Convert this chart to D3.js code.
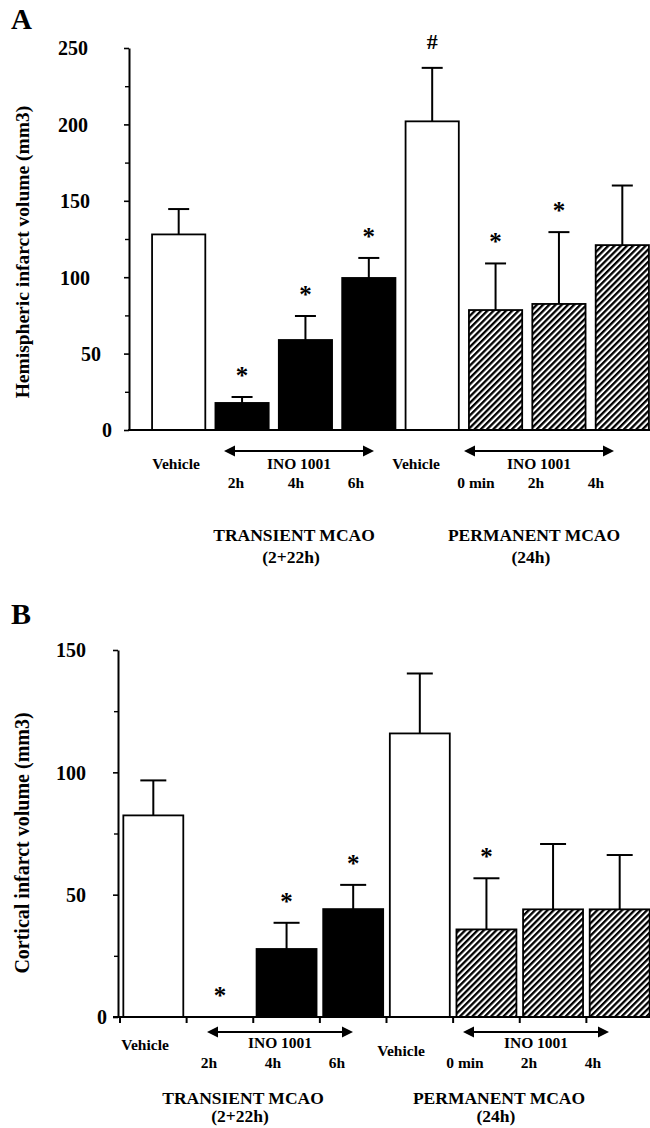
<!DOCTYPE html>
<html><head><meta charset="utf-8">
<script src="https://cdn.jsdelivr.net/npm/d3@7"></script>
<style>html,body{margin:0;padding:0;background:#fff}svg{display:block}</style>
</head><body>
<script>
// ---------- data ----------
const categories = ["Vehicle","2h","4h","6h","Vehicle","0 min","2h","4h"];
const treatments = ["vehicle","ino","ino","ino","vehicle","ino","ino","ino"];
const models = ["transient","transient","transient","transient","permanent","permanent","permanent","permanent"];
const hemisphericMean = [128, 17.7, 58.9, 99.5, 202, 78.5, 82.5, 121];
const hemisphericSem  = [16.6, 3.9, 15.7, 13.1, 35, 30.5, 47, 39];
const hemisphericMarks = ["", "*", "*", "*", "#", "*", "*", ""];
const corticalMean = [82.4, 0, 27.8, 44.1, 115.9, 35.8, 44, 44];
const corticalSem  = [14.3, 0, 10.7, 9.9, 24.5, 20.9, 26.7, 22.2];
const corticalMarks = ["", "*", "*", "*", "", "*", "", ""];
const hemisphericTicks = [0, 50, 100, 150, 200, 250];
const corticalTicks = [0, 50, 100, 150];
const drugName = "INO 1001";
const modelTitles = {transient: ["TRANSIENT MCAO", "(2+22h)"], permanent: ["PERMANENT MCAO", "(24h)"]};

// ---------- drawing ----------
const W = 650, H = 1128;
const FONT = "'Liberation Serif','Times New Roman',serif";
const svg = d3.select("body").append("svg").attr("width", W).attr("height", H)
  .attr("font-family", FONT).attr("font-weight", "bold");

const defs = svg.append("defs");
const pat = defs.append("pattern").attr("id", "hatch").attr("patternUnits", "userSpaceOnUse")
  .attr("width", 4.4).attr("height", 4.4).attr("patternTransform", "rotate(45)");
pat.append("rect").attr("width", 4.4).attr("height", 4.4).attr("fill", "#fff");
pat.append("rect").attr("width", 2.3).attr("height", 4.4).attr("fill", "#000");

function fillFor(i) {
  if (treatments[i] === "vehicle") return "#fff";
  return models[i] === "transient" ? "#000" : "url(#hatch)";
}

function drawPanel(p) {
  const g = svg.append("g");
  const y = d3.scaleLinear().domain([0, p.max]).range([p.bottom, p.top]);
  const x = d3.scaleBand().domain(d3.range(categories.length)).range(p.xRange)
    .paddingInner(p.padIn).paddingOuter(p.padOut);
  const cx = i => x(i) + x.bandwidth() / 2;
  const labelX = d3.scaleLinear().domain([cx(0), cx(categories.length - 1)]).range(p.labelSpan);

  // panel letter
  g.append("text").attr("x", 11).attr("y", p.letterY).attr("font-size", p.letterSize).text(p.letter);

  // y axis title
  g.append("text").attr("transform", `translate(${p.titleX},${p.titleY}) rotate(-90)`)
    .attr("text-anchor", "middle").attr("font-size", p.titleSize).text(p.yTitle);

  const rows = p.means.map((v, i) => ({v, s: p.sems[i], m: p.marks[i], i}));

  // bars
  g.selectAll("rect.bar").data(rows.filter(d => d.v > 0)).join("rect").attr("class", "bar")
    .attr("x", d => x(d.i)).attr("width", x.bandwidth())
    .attr("y", d => y(d.v)).attr("height", d => y(0) - y(d.v))
    .attr("fill", d => fillFor(d.i)).attr("stroke", "#000").attr("stroke-width", 1.8);

  // error bars (upper only)
  const eb = g.selectAll("g.eb").data(rows.filter(d => d.s > 0)).join("g").attr("class", "eb")
    .attr("stroke", "#000").attr("stroke-width", 2);
  eb.append("line").attr("x1", d => cx(d.i)).attr("x2", d => cx(d.i))
    .attr("y1", d => y(d.v)).attr("y2", d => y(d.v + d.s));
  eb.append("line").attr("x1", d => cx(d.i) - p.capW / 2).attr("x2", d => cx(d.i) + p.capW / 2)
    .attr("y1", d => y(d.v + d.s)).attr("y2", d => y(d.v + d.s));

  // significance marks
  g.selectAll("text.mark").data(rows.filter(d => d.m)).join("text").attr("class", "mark")
    .attr("x", d => cx(d.i)).attr("y", d => y(d.v + d.s) - (d.m === "#" ? p.markGap + 2 : p.markGap - 4))
    .attr("text-anchor", "middle").attr("font-size", d => d.m === "#" ? 22 : 25).text(d => d.m);

  // y axis
  const ax = g.append("g").attr("transform", `translate(${p.axisX},0)`)
    .call(d3.axisLeft(y).tickValues(p.ticks).tickSize(5).tickSizeOuter(0).tickFormat(d3.format("d")));
  ax.select(".domain").attr("stroke-width", 2);
  ax.selectAll(".tick line").attr("stroke-width", 1.6);
  ax.selectAll(".tick text").attr("font-family", FONT).attr("font-weight", "bold")
    .attr("font-size", p.tickSize).attr("fill", "#000")
    .attr("x", d => p.tickEnd(d) - p.axisX).attr("dy", "0.34em");
  const minor = g.append("g").attr("transform", `translate(${p.axisX},0)`)
    .call(d3.axisLeft(y).tickValues(d3.range(p.minor, p.max, p.minor * 2)).tickSize(4).tickFormat(""));
  minor.select(".domain").remove();
  minor.selectAll(".tick line").attr("stroke-width", 1.4);

  // baseline
  g.append("line").attr("x1", p.axisX - p.baseLeft).attr("x2", W).attr("y1", y(0)).attr("y2", y(0))
    .attr("stroke", "#000").attr("stroke-width", 2);

  // x ticks at band boundaries
  if (p.xTicks) {
    const bounds = d3.range(categories.length + 1).map(k =>
      k < categories.length ? x(k) - x.step() * x.paddingInner() / 2
                            : x(k - 1) + x.bandwidth() + x.step() * x.paddingInner() / 2);
    g.selectAll("line.xt").data(bounds).join("line").attr("class", "xt")
      .attr("x1", d => d).attr("x2", d => d).attr("y1", y(0)).attr("y2", y(0) + 6)
      .attr("stroke", "#000").attr("stroke-width", 2);
  }

  // category labels
  g.selectAll("text.cat").data(categories).join("text").attr("class", "cat")
    .attr("x", (d, i) => labelX(cx(i)))
    .attr("y", (d, i) => treatments[i] === "vehicle" ? p.vehY[models[i]] : p.doseY)
    .attr("text-anchor", "middle").attr("font-size", 15.5).text(d => d);

  // drug arrows
  for (const model of ["transient", "permanent"]) {
    const idx = d3.range(categories.length).filter(i => models[i] === model && treatments[i] === "ino");
    const xa = labelX(cx(idx[0])) + p.arrowPad[0];
    const xb = labelX(cx(idx[idx.length - 1])) + p.arrowPad[1];
    const ya = p.arrowY, hl = 11, hw = 5.5;
    g.append("line").attr("x1", xa + hl - 1).attr("x2", xb - hl + 1).attr("y1", ya).attr("y2", ya)
      .attr("stroke", "#000").attr("stroke-width", 2.2);
    g.append("path").attr("d", `M${xa},${ya}L${xa + hl},${ya - hw}L${xa + hl},${ya + hw}Z`).attr("fill", "#000");
    g.append("path").attr("d", `M${xb},${ya}L${xb - hl},${ya - hw}L${xb - hl},${ya + hw}Z`).attr("fill", "#000");
    g.append("text").attr("x", (xa + xb) / 2).attr("y", p.drugY).attr("text-anchor", "middle")
      .attr("font-size", 15.5).text(drugName);

    const all = d3.range(categories.length).filter(i => models[i] === model);
    const mx = d3.mean(all, i => labelX(cx(i))) + p.titleShift;
    g.append("text").attr("x", mx).attr("y", p.modelY[0]).attr("text-anchor", "middle")
      .attr("font-size", 17.5).text(modelTitles[model][0]);
    g.append("text").attr("x", mx - 3).attr("y", p.modelY[1]).attr("text-anchor", "middle")
      .attr("font-size", 17.5).text(modelTitles[model][1]);
  }
}

drawPanel({
  letter: "A", letterY: 29, letterSize: 29,
  yTitle: "Hemispheric infarct volume (mm3)", titleX: 29, titleY: 252, titleSize: 19.5,
  means: hemisphericMean, sems: hemisphericSem, marks: hemisphericMarks,
  max: 250, top: 48, bottom: 430, ticks: hemisphericTicks, minor: 25, tickSize: 20,
  tickEnd: d => d === 0 ? 112 : d === 50 ? 101 : d >= 200 ? 88 : 90,
  axisX: 129, baseLeft: 1, xRange: [147, 654], padIn: 0.16, padOut: 0.08, capW: 21, markGap: 17,
  xTicks: false, labelSpan: [176, 596], vehY: {transient: 469, permanent: 469}, doseY: 488,
  arrowY: 451, arrowPad: [-12, 18], drugY: 469, titleShift: 28, modelY: [541, 563]
});

drawPanel({
  letter: "B", letterY: 624, letterSize: 30,
  yTitle: "Cortical infarct volume (mm3)", titleX: 29, titleY: 843, titleSize: 20,
  means: corticalMean, sems: corticalSem, marks: corticalMarks,
  max: 150, top: 650, bottom: 1017, ticks: corticalTicks, minor: 25, tickSize: 20,
  tickEnd: d => d === 0 ? 107 : 86,
  axisX: 118, baseLeft: 5, xRange: [120, 653], padIn: 0.1, padOut: 0.05, capW: 26, markGap: 17,
  xTicks: true, labelSpan: [145, 593], vehY: {transient: 1050, permanent: 1056}, doseY: 1068,
  arrowY: 1032, arrowPad: [-2, 16], drugY: 1048, titleShift: 2, modelY: [1104, 1122]
});
</script>
</body></html>
